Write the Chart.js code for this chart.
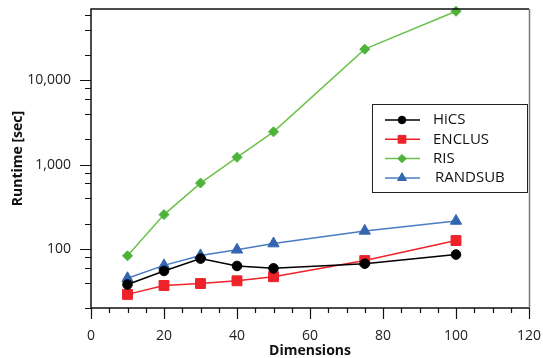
<!DOCTYPE html>
<html lang="en">
<head>
  <meta charset="UTF-8">
  <title>Runtime vs Dimensions</title>
  <script src="https://cdn.jsdelivr.net/npm/chart.js"></script>
  <style>
    html, body { margin: 0; padding: 0; background: #fff; }
    #wrap { width: 543px; height: 358px; }
  </style>
</head>
<body>
  <div id="wrap"><canvas id="myChart" width="543" height="358"></canvas></div>

  <script>
    // data
    const dims = [10, 20, 30, 40, 50, 75, 100];
    const hics = [38, 55, 77, 63, 59, 67, 86];
    const enclus = [29, 37, 39, 42, 47, 73, 126];
    const ris = [83, 256, 605, 1222, 2449, 23400, 65800];
    const randsub = [45, 64, 84, 98, 116, 164, 215];

    const seriesNames = ['HiCS', 'ENCLUS', 'RIS', 'RANDSUB'];
    const yMajorTicks = [100, 1000, 10000];
    const yMinorMult = [2, 4, 6, 8];
    const yDecades = [10, 100, 1000, 10000];
    const xMinorStep = 5;

    const FONT = "'Open Sans', 'DejaVu Sans', sans-serif";

    function toPoints(vals) {
      return dims.map((d, i) => ({ x: d, y: vals[i] }));
    }

    function series(label, vals, color, lineColor, style, radius) {
      return {
        label: label,
        data: toPoints(vals),
        borderColor: lineColor,
        backgroundColor: color,
        pointBackgroundColor: color,
        pointBorderColor: color,
        pointBorderWidth: 1,
        pointStyle: style,
        pointRadius: radius,
        borderWidth: 1.5,
        tension: 0,
        clip: false
      };
    }

    // axis ticks, plot frame and legend
    const decor = {
      id: 'decor',
      afterDraw(chart) {
        const ctx = chart.ctx;
        const a = chart.chartArea;
        const xs = chart.scales.x, ys = chart.scales.y;
        ctx.save();
        ctx.strokeStyle = '#111';
        ctx.lineWidth = 1.2;

        // y ticks
        ctx.beginPath();
        yMajorTicks.forEach(v => {
          const y = Math.round(ys.getPixelForValue(v)) + 0.5;
          ctx.moveTo(a.left - 11, y); ctx.lineTo(a.left, y);
        });
        yDecades.forEach(d => yMinorMult.forEach(m => {
          const v = d * m;
          if (v < ys.min || v > ys.max) return;
          const y = Math.round(ys.getPixelForValue(v)) + 0.5;
          ctx.moveTo(a.left - 6, y); ctx.lineTo(a.left, y);
        }));
        // x ticks
        for (let v = xs.min; v <= xs.max; v += xMinorStep) {
          const x = Math.round(xs.getPixelForValue(v)) + 0.5;
          const len = v % 20 === 0 ? 11 : 5;
          ctx.moveTo(x, a.bottom); ctx.lineTo(x, a.bottom + len);
        }
        ctx.stroke();

        // frame
        ctx.lineWidth = 1.5;
        ctx.strokeStyle = '#111';
        ctx.beginPath();
        ctx.moveTo(a.right, a.top); ctx.lineTo(a.left, a.top);
        ctx.lineTo(a.left, a.bottom); ctx.lineTo(a.right, a.bottom);
        ctx.stroke();
        ctx.strokeStyle = '#777';
        ctx.beginPath();
        ctx.moveTo(a.right + 0.5, a.top); ctx.lineTo(a.right + 0.5, a.bottom);
        ctx.stroke();

        // legend
        const bx = a.left + 281, by = a.top + 95, bw = a.right - 2 - bx, bh = 88;
        ctx.fillStyle = '#fff';
        ctx.fillRect(bx, by, bw, bh);
        ctx.strokeStyle = '#222';
        ctx.lineWidth = 1;
        ctx.strokeRect(bx + 0.5, by + 0.5, bw, bh);
        const legendRadius = [3.8, 5.5, 4.2, 5.2];
        ctx.font = '15px ' + FONT;
        ctx.textBaseline = 'middle';
        chart.data.datasets.forEach((ds, i) => {
          const y = by + 16 + i * 19.3;
          ctx.strokeStyle = ds.borderColor;
          ctx.lineWidth = 1.5;
          ctx.beginPath();
          ctx.moveTo(bx + 13, y); ctx.lineTo(bx + 48, y);
          ctx.stroke();
          ctx.fillStyle = ds.pointBackgroundColor;
          ctx.strokeStyle = ds.pointBorderColor;
          ctx.lineWidth = 1;
          Chart.helpers.drawPoint(ctx, { pointStyle: ds.pointStyle, radius: legendRadius[i], borderWidth: 1, rotation: 0 }, bx + 30, y);
          ctx.fillStyle = '#111';
          ctx.fillText(ds.label, bx + 61 + (i === 3 ? 2 : 0), y);
        });
        ctx.restore();
      }
    };

    const ctx = document.getElementById('myChart').getContext('2d');
    new Chart(ctx, {
      type: 'line',
      data: {
        datasets: [
          series(seriesNames[0], hics, '#000000', '#000000', 'circle', 4.8),
          series(seriesNames[1], enclus, '#ee2229', '#ee2229', 'rect', 7),
          series(seriesNames[2], ris, '#4db33a', '#6cc24a', 'rectRot', 5),
          series(seriesNames[3], randsub, '#3366b0', '#4a7cc4', 'triangle', 6.5)
        ]
      },
      options: {
        responsive: false,
        animation: false,
        layout: { padding: { left: 0, right: 14, top: 9, bottom: 0 } },
        plugins: {
          legend: { display: false },
          tooltip: { enabled: false }
        },
        scales: {
          x: {
            type: 'linear',
            min: 0,
            max: 120,
            grid: { display: false, drawTicks: true, tickLength: 20 },
            border: { display: false },
            ticks: {
              stepSize: 20,
              padding: 0,
              color: '#222',
              font: { family: FONT, size: 14 },
              maxRotation: 0
            },
            title: {
              display: true,
              text: 'Dimensions',
              color: '#111',
              font: { family: FONT, size: 14, weight: 'bold', lineHeight: 1 },
              padding: { top: 0, bottom: 0 }
            },
            afterFit(scale) { scale.height = 50; }
          },
          y: {
            type: 'logarithmic',
            min: 20,
            max: 70000,
            grid: { display: false, drawTicks: true, tickLength: 20 },
            border: { display: false },
            afterBuildTicks(scale) {
              scale.ticks = yMajorTicks.map(v => ({ value: v }));
            },
            ticks: {
              padding: 0,
              color: '#222',
              font: { family: FONT, size: 14 },
              callback: v => Number(v).toLocaleString('en-US')
            },
            title: {
              display: true,
              text: 'Runtime [sec]',
              color: '#111',
              font: { family: FONT, size: 14, weight: 'bold', lineHeight: 1 },
              padding: { top: 11, bottom: 0 }
            },
            afterFit(scale) { scale.width = 91; }
          }
        }
      },
      plugins: [decor]
    });
  </script>
</body>
</html>
